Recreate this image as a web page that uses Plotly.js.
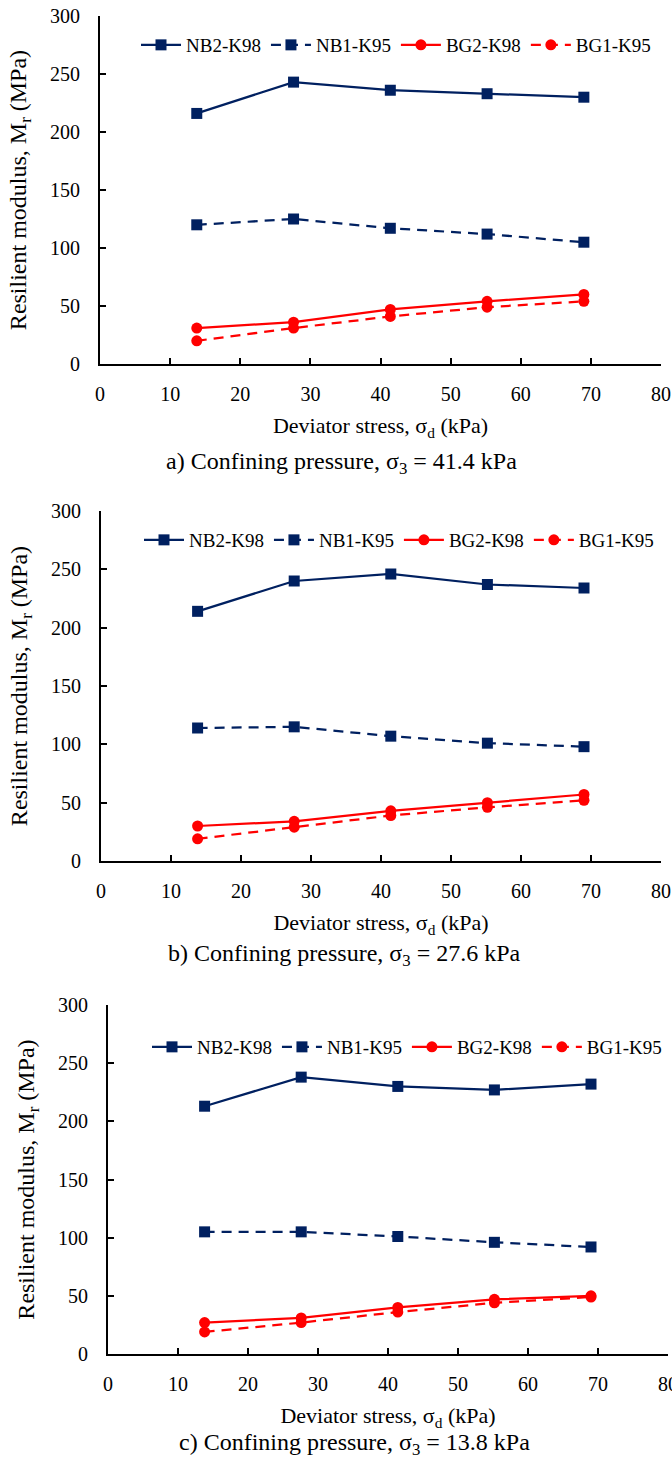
<!DOCTYPE html>
<html>
<head>
<meta charset="utf-8">
<script src="https://cdn.plot.ly/plotly-3.0.1.min.js"></script>
<style>html,body{margin:0;padding:0;background:#fff;}#chart{width:672px;height:1463px;}</style>
</head>
<body>
<div id="chart"></div>
<script>
// Deviator stress (kPa)
const deviatorStress = [13.8, 27.6, 41.4, 55.2, 69.0];
const seriesNames = ["NB2-K98", "NB1-K95", "BG2-K98", "BG1-K95"];

// a) sigma3 = 41.4 kPa
const a_NB2_K98 = [216, 243, 236, 233, 230];
const a_NB1_K95 = [120, 125, 117, 112, 105];
const a_BG2_K98 = [31, 36, 47, 54, 60];
const a_BG1_K95 = [20, 31, 41, 49, 54];

// b) sigma3 = 27.6 kPa
const b_NB2_K98 = [214, 240, 246, 237, 234];
const b_NB1_K95 = [114, 115, 107, 101, 98];
const b_BG2_K98 = [30, 34, 43, 50, 57];
const b_BG1_K95 = [19, 29, 39, 46, 52];

// c) sigma3 = 13.8 kPa
const c_NB2_K98 = [213, 238, 230, 227, 232];
const c_NB1_K95 = [105, 105, 101, 96, 92];
const c_BG2_K98 = [27, 31, 40, 47, 50];
const c_BG1_K95 = [19, 27, 36, 44, 49];

const captions = [
  "a) Confining pressure, σ<sub>3</sub> = 41.4 kPa",
  "b) Confining pressure, σ<sub>3</sub> = 27.6 kPa",
  "c) Confining pressure, σ<sub>3</sub> = 13.8 kPa"
];
const xTitle = "Deviator stress, σ<sub>d</sub> (kPa)";
const yTitle = "Resilient modulus, M<sub>r</sub> (MPa)";

const W = 672, H = 1463;
const NAVY = "#002060", RED = "#FF0000";
const FONT = "Liberation Serif, Times New Roman, serif";

const styles = [
  {color: NAVY, dash: "solid", symbol: "square"},
  {color: NAVY, dash: "10px,7px", symbol: "square"},
  {color: RED, dash: "solid", symbol: "circle"},
  {color: RED, dash: "10px,7px", symbol: "circle"}
];

const panels = [
  {data: [a_NB2_K98, a_NB1_K95, a_BG2_K98, a_BG1_K95], px: [100, 661], py: [16, 364], leg: [136, 45], cap: [341, 463]},
  {data: [b_NB2_K98, b_NB1_K95, b_BG2_K98, b_BG1_K95], px: [101, 661], py: [511, 861], leg: [139, 540], cap: [345, 955]},
  {data: [c_NB2_K98, c_NB1_K95, c_BG2_K98, c_BG1_K95], px: [108, 668], py: [1005, 1354], leg: [147, 1047], cap: [354, 1444]}
];

const traces = [];
const layout = {
  width: W, height: H,
  margin: {l: 0, r: 0, t: 0, b: 0, autoexpand: false},
  paper_bgcolor: "#fff", plot_bgcolor: "#fff",
  font: {family: FONT, size: 20, color: "#000"},
  annotations: [],
  showlegend: true
};

panels.forEach((p, i) => {
  const n = i === 0 ? "" : String(i + 1);
  const legName = "legend" + n;
  p.data.forEach((vals, k) => {
    traces.push({
      type: "scatter", mode: "lines+markers",
      x: deviatorStress, y: vals, name: seriesNames[k],
      xaxis: "x" + n, yaxis: "y" + n, legend: legName,
      line: {color: styles[k].color, width: 2.25, dash: styles[k].dash},
      marker: {color: styles[k].color, symbol: styles[k].symbol, size: 11}
    });
  });
  layout["xaxis" + n] = {
    domain: [p.px[0] / W, p.px[1] / W], anchor: "y" + n,
    range: [0, 80], dtick: 10, tick0: 0,
    showgrid: false, zeroline: false,
    showline: true, linecolor: "#000", linewidth: 2,
    ticks: "inside", ticklen: 6, tickwidth: 2, tickcolor: "#000",
    ticklabelstandoff: 11, ticklabeloverflow: "allow",
    tickfont: {family: FONT, size: 20, color: "#000"},
    title: {text: xTitle, font: {family: FONT, size: 22}, standoff: 14}
  };
  layout["yaxis" + n] = {
    domain: [1 - p.py[1] / H, 1 - p.py[0] / H], anchor: "x" + n,
    range: [0, 300], dtick: 50, tick0: 0,
    showgrid: false, zeroline: false,
    showline: true, linecolor: "#000", linewidth: 2,
    ticks: "inside", ticklen: 6, tickwidth: 2, tickcolor: "#000",
    ticklabelstandoff: 14, ticklabeloverflow: "allow",
    tickfont: {family: FONT, size: 20, color: "#000"},
    title: {text: yTitle, font: {family: FONT, size: 24}, standoff: 17}
  };
  layout[legName] = {
    orientation: "h", x: p.leg[0] / W, y: 1 - p.leg[1] / H,
    xanchor: "left", yanchor: "middle",
    bgcolor: "rgba(0,0,0,0)", borderwidth: 0,
    font: {family: FONT, size: 19, color: "#000"},
    itemwidth: 40, tracegroupgap: 0, itemclick: false
  };
  layout.annotations.push({
    xref: "paper", yref: "paper",
    x: p.cap[0] / W, y: 1 - p.cap[1] / H,
    xanchor: "center", yanchor: "middle",
    text: captions[i], showarrow: false,
    font: {family: FONT, size: 24, color: "#000"}
  });
});

Plotly.newPlot("chart", traces, layout, {displayModeBar: false, staticPlot: true});
</script>
</body>
</html>
